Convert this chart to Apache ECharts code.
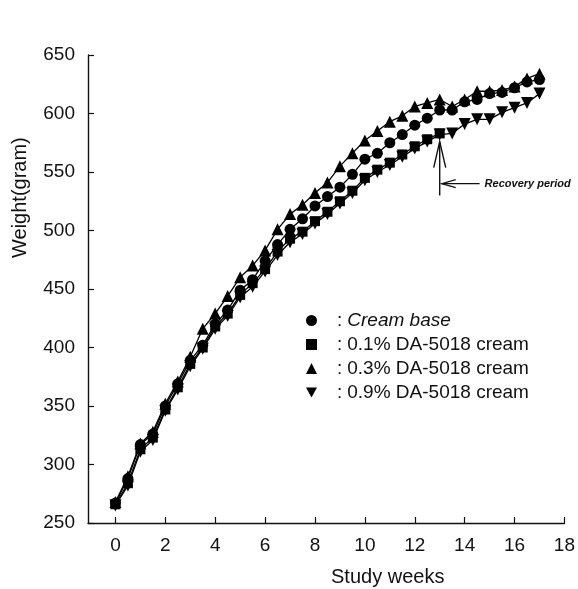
<!DOCTYPE html>
<html>
<head>
<meta charset="utf-8">
<script src="https://cdn.jsdelivr.net/npm/echarts@6/dist/echarts.min.js"></script>
<style>
  html, body { margin: 0; padding: 0; background: #fff; }
  #chart { width: 578px; height: 589px; }
</style>
</head>
<body>
<div id="chart"></div>
<script>
// study week of each weighing
const weeks = [0, 0.5, 1, 1.5, 2, 2.5, 3, 3.5, 4, 4.5, 5, 5.5, 6, 6.5, 7, 7.5, 8, 8.5,
  9, 9.5, 10, 10.5, 11, 11.5, 12, 12.5, 13, 13.5, 14, 14.5, 15, 15.5, 16, 16.5, 17]

// body weight (gram)
const creamBase = [267, 288, 317, 326, 350, 369, 389, 402, 420, 432, 449, 458, 474, 488, 501, 510, 521, 529,
  537, 548, 561, 566, 575, 582, 590, 596, 603, 603, 610, 612, 617, 618, 622, 627, 629]
const da01 = [266, 284, 313, 323, 347, 366, 386, 400, 418, 429, 445, 455, 467, 482, 493, 499, 508, 516,
  525, 534, 545, 552, 558, 565, 572, 578, 583]
const da03 = [268, 290, 318, 328, 352, 371, 392, 416, 429, 444, 460, 470, 483, 501, 514, 522, 532, 541,
  555, 566, 577, 585, 593, 598, 606, 609, 612, 606, 612, 619, 619, 620, 623, 630, 634]
const da09 = [265, 282, 311, 321, 346, 364, 384, 399, 416, 427, 443, 452, 465, 479, 490, 497, 506, 514,
  523, 532, 543, 550, 556, 563, 570, 576, 582, 583, 591, 595, 595, 601, 605, 609, 617]

const xTicks = [0, 2, 4, 6, 8, 10, 12, 14, 16, 18]
const names = ['Cream base', '0.1% DA-5018 cream', '0.3% DA-5018 cream', '0.9% DA-5018 cream']

const FONT = '"Liberation Sans", Arial, sans-serif'
const downTri = 'path://M0,0L10,0L5,9Z'

function pairs(vals) {
  return vals.map((v, i) => [weeks[i], v])
}

function makeSeries(name, vals, symbol, size) {
  return {
    name,
    type: 'line',
    data: pairs(vals),
    symbol,
    symbolSize: size,
    showAllSymbol: true,
    lineStyle: { color: '#000', width: 1.3 },
    itemStyle: { color: '#000' },
    animation: false
  }
}

let chart = echarts.init(document.getElementById('chart'))

chart.setOption({
  backgroundColor: '#fff',
  grid: { left: 88, right: 11, top: 55, bottom: 66 },
  xAxis: {
    type: 'value',
    min: -1.1,
    max: 18,
    axisLine: { onZero: false, lineStyle: { color: '#111', width: 1.4 } },
    axisTick: { customValues: xTicks, inside: true, length: 6, lineStyle: { color: '#111', width: 1.2 } },
    axisLabel: { customValues: xTicks, color: '#111', fontSize: 19, fontFamily: FONT, margin: 13 },
    splitLine: { show: false }
  },
  yAxis: {
    type: 'value',
    min: 250,
    max: 650,
    interval: 50,
    axisLine: { show: true, onZero: false, lineStyle: { color: '#111', width: 1.4 } },
    axisTick: { show: true, inside: true, length: 6, lineStyle: { color: '#111', width: 1.2 } },
    axisLabel: { color: '#111', fontSize: 19, fontFamily: FONT, margin: 13 },
    splitLine: { show: false }
  },
  legend: {
    orient: 'vertical',
    left: 301,
    top: 306,
    itemGap: 5,
    itemWidth: 11,
    itemHeight: 11,
    selectedMode: false,
    data: [
      { name: names[0], icon: 'circle' },
      { name: names[1], icon: 'rect' },
      { name: names[2], icon: 'triangle' },
      { name: names[3], icon: downTri }
    ],
    formatter: name => name === names[0] ? '{c|:}{i|' + name + '}' : '{c|:}{t|' + name + '}',
    textStyle: {
      color: '#111',
      fontSize: 19,
      fontFamily: FONT,
      rich: {
        c: { fontSize: 19, fontFamily: FONT, color: '#111', padding: [0, 5, 0, 15] },
        i: { fontSize: 19, fontFamily: FONT, color: '#111', fontStyle: 'italic' },
        t: { fontSize: 19, fontFamily: FONT, color: '#111' }
      }
    }
  },
  series: [
    makeSeries(names[3], da09, downTri, 12),
    makeSeries(names[1], da01, 'rect', 10),
    makeSeries(names[0], creamBase, 'circle', 11),
    makeSeries(names[2], da03, 'triangle', 12)
  ]
})

// axis titles and the recovery-period arrows
let toPx = (x, y) => chart.convertToPixel({ gridIndex: 0 }, [x, y])
let tip = toPx(13, 576)
let foot = toPx(13, 530)
let side = toPx(13, 540)
let tail = toPx(14.6, 540)
let label = toPx(14.8, 540)

chart.setOption({
  graphic: [
    {
      type: 'text', left: 331, top: 567,
      style: { text: 'Study weeks', fontSize: 20, fontFamily: FONT, fill: '#111' }
    },
    {
      type: 'text', x: 10, y: 258, rotation: Math.PI / 2,
      style: { text: 'Weight(gram)', fontSize: 20, fontFamily: FONT, fill: '#111' }
    },
    {
      type: 'polyline',
      shape: { points: [tip, foot] },
      style: { stroke: '#111', lineWidth: 1.4 }
    },
    {
      type: 'polyline',
      shape: { points: [[tip[0] - 6, tip[1] + 26], tip, [tip[0] + 6, tip[1] + 26]] },
      style: { stroke: '#111', lineWidth: 1.4, fill: null }
    },
    {
      type: 'polyline',
      shape: { points: [tail, [side[0] + 2, side[1]]] },
      style: { stroke: '#111', lineWidth: 1.2 }
    },
    {
      type: 'polyline',
      shape: { points: [[side[0] + 16, side[1] - 4], [side[0] + 2, side[1]], [side[0] + 16, side[1] + 4]] },
      style: { stroke: '#111', lineWidth: 1.2, fill: null }
    },
    {
      type: 'text', x: label[0], y: label[1],
      style: {
        text: 'Recovery period', fontSize: 11, fontWeight: 'bold', fontStyle: 'italic',
        fontFamily: FONT, fill: '#111', verticalAlign: 'middle'
      }
    }
  ]
})
</script>
</body>
</html>
